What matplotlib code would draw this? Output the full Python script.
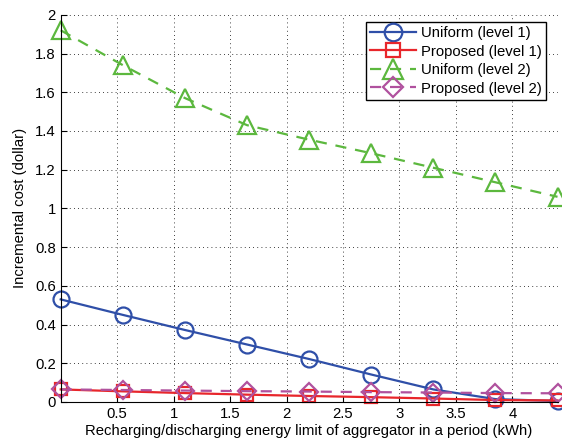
import matplotlib
matplotlib.use('Agg')
import matplotlib.pyplot as plt

plt.rcParams['font.family'] = ['Liberation Sans', 'DejaVu Sans']

# recharging/discharging limit (kWh)
limit = [0, 0.55, 1.1, 1.65, 2.2, 2.75, 3.3, 3.85, 4.4]

uniform_l1 = [0.53, 0.45, 0.372, 0.297, 0.222, 0.142, 0.065, 0.015, 0.005]
proposed_l1 = [0.065, 0.055, 0.046, 0.038, 0.031, 0.025, 0.018, 0.01, 0.008]
uniform_l2 = [1.92, 1.74, 1.57, 1.43, 1.355, 1.285, 1.21, 1.135, 1.06]
proposed_l2 = [0.065, 0.062, 0.059, 0.056, 0.054, 0.051, 0.049, 0.046, 0.045]

fig = plt.figure(figsize=(5.62, 4.42), dpi=100)
ax = fig.add_axes([0.108, 0.0905, 0.884, 0.876])

fs = 10.7
ms = 11.5
kw = dict(mfc='none', mew=1.6, lw=1.6, clip_on=False)
ax.plot(limit, uniform_l1, '-', color='#2f4fa8', marker='o', ms=ms, label='Uniform (level 1)', **kw)
ax.plot(limit, proposed_l1, '-', color='#e8262b', marker='s', ms=ms*0.8, label='Proposed (level 1)', **kw)
ax.plot(limit, uniform_l2, '--', color='#5cb83e', marker='^', ms=ms*1.1, label='Uniform (level 2)',
        dashes=(5, 4), **kw)
ax.plot(limit, proposed_l2, '--', color='#b0519e', marker='D', ms=ms*0.8, label='Proposed (level 2)',
        dashes=(5, 4), **kw)

ax.set_xlim(0, 4.4)
ax.set_ylim(0, 2)
ax.set_xticks([0.5, 1, 1.5, 2, 2.5, 3, 3.5, 4])
ax.set_xticklabels(['0.5', '1', '1.5', '2', '2.5', '3', '3.5', '4'])
ax.set_yticks([0, 0.2, 0.4, 0.6, 0.8, 1, 1.2, 1.4, 1.6, 1.8, 2])
ax.set_yticklabels(['0', '0.2', '0.4', '0.6', '0.8', '1', '1.2', '1.4', '1.6', '1.8', '2'])
ax.tick_params(direction='in', labelsize=fs, length=4)
ax.spines['top'].set_visible(False)
ax.spines['right'].set_visible(False)
ax.grid(True, linestyle=(0, (1, 4)), color='black', lw=0.6)

ax.set_xlabel('Recharging/discharging energy limit of aggregator in a period (kWh)', fontsize=fs, labelpad=2)
ax.set_ylabel('Incremental cost (dollar)', fontsize=fs, labelpad=6)

leg = ax.legend(loc='upper right', bbox_to_anchor=(0.977, 0.982), fontsize=fs, fancybox=False,
                edgecolor='black', handlelength=3.1, borderpad=0.3, labelspacing=0.3,
                handletextpad=0.3, borderaxespad=0, framealpha=1, markerscale=1.1)
leg.get_frame().set_linewidth(1.0)

fig.savefig('out.png', dpi=100)
